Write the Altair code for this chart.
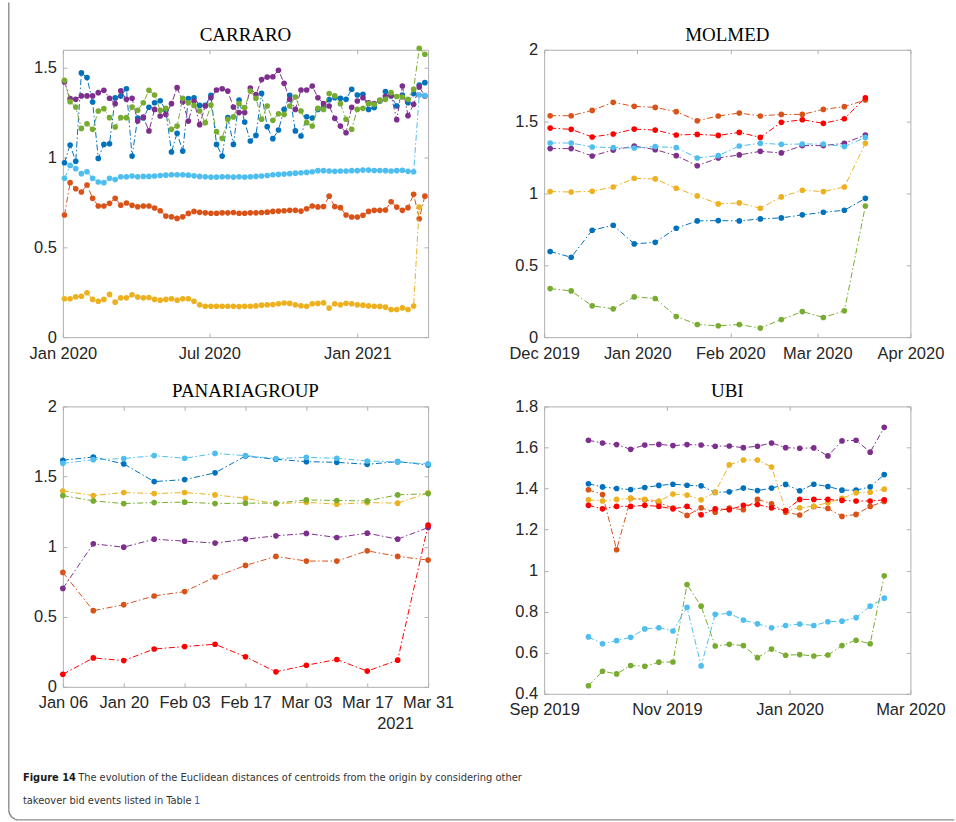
import altair as alt
import pandas as pd

# MATLAB default line colours, keyed by series name
SERIES = ["blue", "orange", "yellow", "purple", "green", "cyan", "red"]
COLORS = ["#0072BD", "#D95319", "#EDB120", "#7E2F8E", "#77AC30", "#4DBEEE", "#FF0000"]

BOX = "#b0b0b0"
TXT = "#262626"
TICK_FONT = "Liberation Sans"
TITLE_FONT = "Liberation Serif"
CAPTION_FONT = "Liberation Sans Narrow, DejaVu Sans Condensed, Liberation Sans"
CAPTION_SIZE = 11

# ---------------- CARRARO (weekly, from 2020-01-03) ----------------
carraro_start = "2020-01-03"
carraro_blue = [0.971, 1.070, 0.979, 1.471, 1.445, 1.309, 0.995, 1.073, 1.077, 1.332,
                1.342, 1.383, 1.008, 1.220, 1.220, 1.280, 1.305, 1.316, 1.263, 1.031,
                1.135, 1.036, 1.328, 1.333, 1.290, 1.290, 1.346, 1.073, 1.008, 1.222,
                1.073, 1.320, 1.198, 1.092, 1.123, 1.357, 1.172, 1.105, 1.153, 1.268,
                1.346, 1.148, 1.120, 1.227, 1.220, 1.268, 1.280, 1.322, 1.333, 1.330,
                1.324, 1.380, 1.348, 1.352, 1.268, 1.278, 1.315, 1.367, 1.343, 1.287,
                1.348, 1.305, 1.356, 1.404, 1.417]
carraro_orange = [0.680, 0.860, 0.826, 0.808, 0.847, 0.773, 0.730, 0.730, 0.745, 0.773,
                  0.735, 0.747, 0.734, 0.726, 0.730, 0.730, 0.719, 0.704, 0.674, 0.670,
                  0.661, 0.670, 0.689, 0.700, 0.695, 0.692, 0.690, 0.690, 0.692, 0.692,
                  0.694, 0.690, 0.690, 0.692, 0.692, 0.694, 0.696, 0.700, 0.702, 0.704,
                  0.706, 0.706, 0.702, 0.715, 0.730, 0.725, 0.727, 0.785, 0.727, 0.721,
                  0.680, 0.669, 0.669, 0.678, 0.700, 0.706, 0.706, 0.708, 0.754, 0.724,
                  0.706, 0.721, 0.795, 0.659, 0.785]
carraro_yellow = [0.214, 0.214, 0.225, 0.228, 0.247, 0.210, 0.200, 0.210, 0.238, 0.195,
                  0.219, 0.219, 0.236, 0.223, 0.219, 0.221, 0.210, 0.206, 0.210, 0.214,
                  0.206, 0.214, 0.214, 0.200, 0.180, 0.172, 0.172, 0.172, 0.172, 0.172,
                  0.172, 0.170, 0.172, 0.172, 0.174, 0.178, 0.180, 0.182, 0.186, 0.190,
                  0.188, 0.180, 0.175, 0.172, 0.186, 0.188, 0.191, 0.162, 0.186, 0.180,
                  0.189, 0.186, 0.180, 0.178, 0.174, 0.172, 0.171, 0.167, 0.154, 0.154,
                  0.163, 0.154, 0.173, 0.724]
carraro_purple = [1.421, 1.328, 1.324, 1.343, 1.343, 1.343, 1.361, 1.374, 1.330, 1.300,
                  1.371, 1.324, 1.330, 1.203, 1.225, 1.148, 1.268, 1.231, 1.240, 1.300,
                  1.389, 1.310, 1.203, 1.315, 1.183, 1.287, 1.333, 1.376, 1.383, 1.370,
                  1.281, 1.250, 1.250, 1.387, 1.350, 1.434, 1.448, 1.450, 1.486, 1.413,
                  1.324, 1.268, 1.376, 1.376, 1.398, 1.333, 1.300, 1.287, 1.218, 1.175,
                  1.138, 1.280, 1.315, 1.333, 1.305, 1.300, 1.318, 1.340, 1.345, 1.211,
                  1.398, 1.233, 1.296, 1.393, 1.343]
carraro_green = [1.430, 1.311, 1.281, 1.162, 1.188, 1.157, 1.259, 1.272, 1.222, 1.170,
                 1.222, 1.222, 1.281, 1.263, 1.305, 1.374, 1.348, 1.263, 1.274, 1.157,
                 1.175, 1.330, 1.305, 1.290, 1.259, 1.194, 1.292, 1.144, 1.107, 1.213,
                 1.226, 1.300, 1.278, 1.370, 1.330, 1.213, 1.287, 1.207, 1.244, 1.240,
                 1.287, 1.337, 1.259, 1.194, 1.175, 1.274, 1.268, 1.356, 1.343, 1.300,
                 1.213, 1.157, 1.268, 1.274, 1.300, 1.296, 1.318, 1.324, 1.361, 1.340,
                 1.337, 1.324, 1.380, 1.608, 1.575]
carraro_cyan = [0.884, 0.956, 0.938, 0.910, 0.921, 0.884, 0.864, 0.860, 0.884, 0.877,
                0.893, 0.893, 0.897, 0.893, 0.895, 0.895, 0.897, 0.900, 0.902, 0.904,
                0.904, 0.904, 0.902, 0.898, 0.895, 0.893, 0.891, 0.891, 0.893, 0.893,
                0.891, 0.893, 0.891, 0.893, 0.895, 0.897, 0.900, 0.904, 0.906, 0.908,
                0.910, 0.913, 0.915, 0.917, 0.921, 0.927, 0.927, 0.925, 0.923, 0.925,
                0.925, 0.927, 0.927, 0.930, 0.930, 0.928, 0.928, 0.927, 0.925, 0.927,
                0.929, 0.923, 0.921, 1.348, 1.345]

# ---------------- MOLMED (weekly, from 2019-12-03) ----------------
molmed_start = "2019-12-03"
molmed_blue = [0.596, 0.556, 0.744, 0.779, 0.649, 0.660, 0.758, 0.809, 0.811, 0.809,
               0.823, 0.830, 0.851, 0.869, 0.883, 0.966]
molmed_orange = [1.541, 1.541, 1.578, 1.634, 1.606, 1.599, 1.569, 1.506, 1.539, 1.560,
                 1.539, 1.550, 1.550, 1.585, 1.604, 1.650]
molmed_yellow = [1.013, 1.010, 1.015, 1.045, 1.105, 1.101, 1.036, 0.983, 0.927, 0.934,
                 0.897, 0.976, 1.022, 1.013, 1.045, 1.349]
molmed_purple = [1.312, 1.312, 1.261, 1.302, 1.330, 1.305, 1.263, 1.193, 1.247, 1.268,
                 1.293, 1.282, 1.333, 1.333, 1.349, 1.407]
molmed_green = [0.338, 0.322, 0.218, 0.197, 0.280, 0.269, 0.144, 0.088, 0.079, 0.088,
                0.063, 0.123, 0.178, 0.137, 0.183, 0.913]
molmed_cyan = [1.351, 1.351, 1.323, 1.319, 1.316, 1.326, 1.319, 1.247, 1.263, 1.330,
               1.349, 1.342, 1.344, 1.344, 1.326, 1.390]
molmed_red = [1.455, 1.446, 1.393, 1.414, 1.448, 1.441, 1.407, 1.411, 1.404, 1.425,
              1.390, 1.495, 1.513, 1.488, 1.520, 1.666]

# ---------------- PANARIAGROUP (weekly, from 2021-01-06) ----------------
panaria_start = "2021-01-06"
panaria_blue = [1.616, 1.639, 1.590, 1.464, 1.478, 1.526, 1.646, 1.623, 1.606, 1.601, 1.587, 1.606, 1.582]
panaria_orange = [0.816, 0.543, 0.586, 0.648, 0.679, 0.783, 0.866, 0.930, 0.897, 0.897, 0.970, 0.930, 0.904]
panaria_yellow = [1.397, 1.364, 1.386, 1.378, 1.386, 1.369, 1.345, 1.305, 1.317, 1.302, 1.314, 1.310, 1.383]
panaria_purple = [0.702, 1.020, 0.996, 1.053, 1.039, 1.025, 1.053, 1.077, 1.094, 1.065, 1.096, 1.053, 1.136]
panaria_green = [1.364, 1.326, 1.307, 1.314, 1.317, 1.307, 1.310, 1.310, 1.333, 1.329, 1.326, 1.369, 1.378]
panaria_cyan = [1.594, 1.620, 1.628, 1.649, 1.630, 1.665, 1.649, 1.628, 1.637, 1.630, 1.611, 1.604, 1.590]
panaria_red = [0.090, 0.206, 0.187, 0.270, 0.287, 0.304, 0.214, 0.107, 0.154, 0.195, 0.112, 0.190, 1.153]

# ---------------- UBI (weekly, from 2019-09-23) ----------------
ubi_start = "2019-09-23"
ubi_blue = [1.423, 1.408, 1.400, 1.395, 1.405, 1.415, 1.421, 1.416, 1.413, 1.381, 1.384,
            1.402, 1.390, 1.402, 1.420, 1.389, 1.421, 1.410, 1.392, 1.392, 1.408, 1.468]
ubi_orange = [1.394, 1.371, 1.102, 1.352, 1.345, 1.331, 1.305, 1.269, 1.306, 1.285, 1.305,
              1.297, 1.347, 1.326, 1.285, 1.271, 1.311, 1.303, 1.264, 1.274, 1.313, 1.337]
ubi_yellow = [1.345, 1.339, 1.347, 1.352, 1.348, 1.339, 1.373, 1.368, 1.345, 1.382, 1.515,
              1.539, 1.539, 1.505, 1.293, 1.306, 1.314, 1.331, 1.352, 1.379, 1.382, 1.397]
ubi_purple = [1.635, 1.622, 1.614, 1.591, 1.612, 1.615, 1.609, 1.614, 1.612, 1.606, 1.607,
              1.599, 1.606, 1.622, 1.599, 1.596, 1.598, 1.559, 1.632, 1.635, 1.577, 1.698]
ubi_green = [0.439, 0.510, 0.497, 0.538, 0.534, 0.554, 0.555, 0.932, 0.827, 0.633, 0.641,
             0.635, 0.576, 0.618, 0.588, 0.591, 0.584, 0.589, 0.635, 0.661, 0.644, 0.975]
ubi_cyan = [0.677, 0.644, 0.659, 0.675, 0.716, 0.722, 0.706, 0.821, 0.536, 0.787, 0.792,
            0.759, 0.741, 0.722, 0.733, 0.740, 0.733, 0.751, 0.754, 0.771, 0.827, 0.866]
ubi_red = [1.318, 1.301, 1.313, 1.313, 1.318, 1.313, 1.301, 1.313, 1.272, 1.301, 1.297,
           1.318, 1.322, 1.306, 1.293, 1.347, 1.347, 1.347, 1.342, 1.339, 1.339, 1.345]

# Caption text
caption_bold = "Figure 14"
caption_line1 = "The evolution of the Euclidean distances of centroids from the origin by considering other"
caption_line2 = "takeover bid events listed in Table"
caption_ref = "1"


def long_frame(start, series):
    n = max(len(v) for v in series.values())
    dates = pd.date_range(start, periods=n, freq="7D").strftime("%Y-%m-%d").tolist()
    rows = []
    for name, vals in series.items():
        for d, v in zip(dates, vals):
            rows.append({"date": d, "value": v, "series": name})
    return pd.DataFrame(rows)


def dt(y, m, d):
    return alt.DateTime(year=y, month=m, date=d, utc=True)


one = pd.DataFrame({"k": [0]})


def text_layer(txt, x, y, **style):
    return alt.Chart(pd.DataFrame({"t": [txt]})).mark_text(**style).encode(
        x=alt.value(x), y=alt.value(y), text="t:N")


def panel(df, title, xdom, xticks, xfmt, ydom, yticks, w, h, extras=()):
    xs = alt.Scale(type="utc", domain=xdom)
    ys = alt.Scale(domain=ydom, nice=False, zero=False)
    color = alt.Color("series:N", scale=alt.Scale(domain=SERIES, range=COLORS), legend=None)
    frame = dict(offset=-4, tickSize=4, tickWidth=1, tickColor=BOX, domain=False,
                 grid=False, title=None)
    lab = dict(labelFont=TICK_FONT, labelFontSize=16.5, labelColor=TXT, labelOverlap=False)
    ax_bottom = alt.Axis(orient="bottom", values=xticks,
                         labelExpr=f"utcFormat(datum.value, '{xfmt}')",
                         labelPadding=8, labelFlush=False, **lab, **frame)
    ax_left = alt.Axis(orient="left", values=yticks, format="~g", labelPadding=6.5,
                       **lab, **frame)
    ax_top = alt.Axis(orient="top", values=xticks, labels=False, **frame)
    ax_right = alt.Axis(orient="right", values=yticks, labels=False, **frame)

    base = alt.Chart(df)
    layers = [
        base.mark_point(opacity=0).encode(
            x=alt.X("date:T", scale=xs, axis=ax_bottom),
            y=alt.Y("value:Q", scale=ys, axis=ax_left)),
        base.mark_point(opacity=0).encode(
            x=alt.X("date:T", scale=xs, axis=ax_top),
            y=alt.Y("value:Q", scale=ys, axis=ax_right)),
    ]
    # each series: dash-dot line, then filled circle markers
    for name in [s for s in SERIES if s in set(df["series"])]:
        sub = base.transform_filter(alt.datum.series == name)
        layers.append(sub.mark_line(strokeWidth=1, strokeDash=[6, 2.5, 1.5, 2.5]).encode(
            x=alt.X("date:T", scale=xs, axis=None),
            y=alt.Y("value:Q", scale=ys, axis=None), color=color))
        layers.append(sub.mark_circle(size=32, opacity=1).encode(
            x=alt.X("date:T", scale=xs, axis=None),
            y=alt.Y("value:Q", scale=ys, axis=None), color=color))
    # panel title, set 9 px above the plot frame
    layers.append(text_layer(title, w / 2, -9, font=TITLE_FONT, fontSize=19,
                             color="black", align="center", baseline="alphabetic"))
    layers.extend(extras)
    return alt.layer(*layers).resolve_axis(x="independent", y="independent").properties(
        width=w, height=h)


# plot-area origin of the first panel; page decorations are positioned from it
OX, OY = 61.7, 48.3
FRAME_GREY = "#8c8c8c"
page = [
    # pins the top-left corner of the page
    alt.Chart(one).mark_rect(fill="white", opacity=1).encode(
        x=alt.value(-OX), x2=alt.value(1 - OX), y=alt.value(-OY), y2=alt.value(1 - OY)),
    # figure frame: left edge, rounded corner, bottom edge
    alt.Chart(one).mark_rule(color=FRAME_GREY, strokeWidth=1.4).encode(
        x=alt.value(7.5 - OX), y=alt.value(1 - OY), y2=alt.value(810 - OY)),
    alt.Chart(one).mark_arc(color=FRAME_GREY, radius=10.7, radius2=9.3,
                            theta=3.14159, theta2=4.71239).encode(
        x=alt.value(17.5 - OX), y=alt.value(810 - OY)),
    alt.Chart(one).mark_rule(color=FRAME_GREY, strokeWidth=1.4).encode(
        x=alt.value(17.5 - OX), x2=alt.value(955 - OX), y=alt.value(820 - OY)),
    text_layer(caption_bold, 21.7 - OX, 781.5 - OY, font=CAPTION_FONT,
               fontSize=CAPTION_SIZE, fontWeight="bold", color="#1a1a1a",
               align="left", baseline="alphabetic"),
    text_layer(caption_line1, 77 - OX, 781.5 - OY, font=CAPTION_FONT,
               fontSize=CAPTION_SIZE, color="#333333", align="left", baseline="alphabetic"),
    text_layer(caption_line2, 21.7 - OX, 804.5 - OY, font=CAPTION_FONT,
               fontSize=CAPTION_SIZE, color="#333333", align="left", baseline="alphabetic"),
    text_layer(caption_ref, 193 - OX, 804.5 - OY, font=CAPTION_FONT,
               fontSize=CAPTION_SIZE, color="#2d5fd3", align="left", baseline="alphabetic"),
]

carraro = panel(
    long_frame(carraro_start, {"blue": carraro_blue, "orange": carraro_orange,
                               "yellow": carraro_yellow, "purple": carraro_purple,
                               "green": carraro_green, "cyan": carraro_cyan}),
    "CARRARO", [dt(2020, 1, 1), dt(2021, 3, 30)],
    [dt(2020, 1, 1), dt(2020, 7, 1), dt(2021, 1, 1)], "%b %Y",
    [0, 1.6], [0, 0.5, 1, 1.5], 366, 288, extras=page)

molmed = panel(
    long_frame(molmed_start, {"blue": molmed_blue, "orange": molmed_orange,
                              "yellow": molmed_yellow, "purple": molmed_purple,
                              "green": molmed_green, "cyan": molmed_cyan,
                              "red": molmed_red}),
    "MOLMED", [dt(2019, 12, 1), dt(2020, 4, 1)],
    [dt(2019, 12, 1), dt(2020, 1, 1), dt(2020, 2, 1), dt(2020, 3, 1), dt(2020, 4, 1)],
    "%b %Y", [0, 2], [0, 0.5, 1, 1.5, 2], 367, 288)

year_label = text_layer("2021", 395 - 61.7, 729 - 405.7, font=TICK_FONT, fontSize=16.5,
                        color=TXT, align="center", baseline="alphabetic")

panaria = panel(
    long_frame(panaria_start, {"blue": panaria_blue, "orange": panaria_orange,
                               "yellow": panaria_yellow, "purple": panaria_purple,
                               "green": panaria_green, "cyan": panaria_cyan,
                               "red": panaria_red}),
    "PANARIAGROUP", [dt(2021, 1, 6), dt(2021, 3, 31)],
    [dt(2021, 1, 6), dt(2021, 1, 20), dt(2021, 2, 3), dt(2021, 2, 17),
     dt(2021, 3, 3), dt(2021, 3, 17), dt(2021, 3, 31)],
    "%b %d", [0, 2], [0, 0.5, 1, 1.5, 2], 366, 281, extras=[year_label])

ubi = panel(
    long_frame(ubi_start, {"blue": ubi_blue, "orange": ubi_orange, "yellow": ubi_yellow,
                           "purple": ubi_purple, "green": ubi_green, "cyan": ubi_cyan,
                           "red": ubi_red}),
    "UBI", [dt(2019, 9, 1), dt(2020, 3, 1)],
    [dt(2019, 9, 1), dt(2019, 11, 1), dt(2020, 1, 1), dt(2020, 3, 1)], "%b %Y",
    [0.4, 1.8], [0.4, 0.6, 0.8, 1.0, 1.2, 1.4, 1.6, 1.8], 367, 288)

chart = alt.concat(
    carraro, molmed, panaria, ubi, columns=2, bounds="flush",
    spacing=alt.RowColnumber(row=69.4, column=116.3),
).properties(padding=0).configure_view(stroke=BOX, strokeWidth=1)

chart.save("out.html", embed_options={"renderer": "svg", "actions": False})
